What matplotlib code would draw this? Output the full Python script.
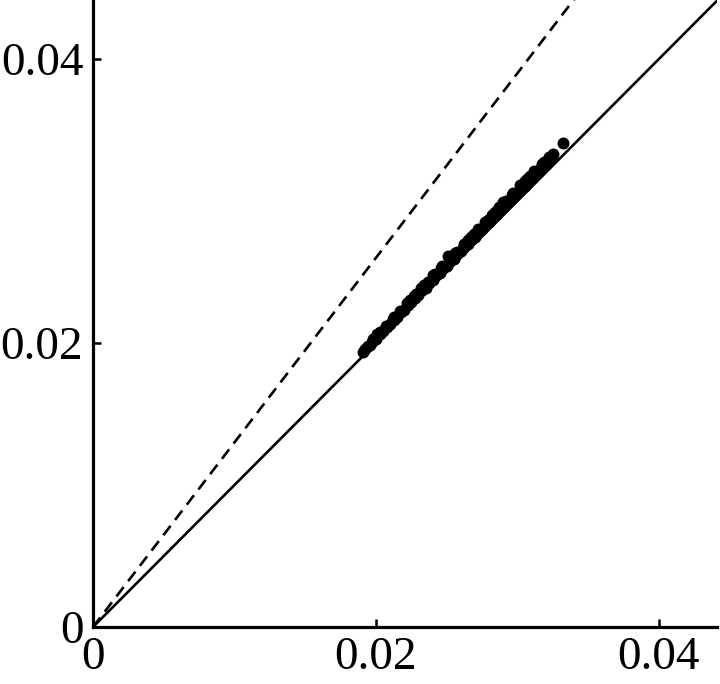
import matplotlib
matplotlib.use("Agg")
import matplotlib.pyplot as plt

# data points (dense band along the diagonal + outlier)
x_pts = [0.0191, 0.0196, 0.0200, 0.0205, 0.0210, 0.0215, 0.0220, 0.0225, 0.0230, 0.0235,
         0.0240, 0.0245, 0.0250, 0.0255, 0.0260, 0.0265, 0.0270, 0.0275, 0.0280, 0.0285,
         0.0290, 0.0295, 0.0300, 0.0305, 0.0310, 0.0315, 0.0320, 0.0324,
         0.0194, 0.0198, 0.0203, 0.0207, 0.0212, 0.0217, 0.0222, 0.0227, 0.0232, 0.0237,
         0.0242, 0.0247, 0.0252, 0.0257, 0.0262, 0.0267, 0.0272, 0.0277, 0.0282, 0.0287,
         0.0292, 0.0297, 0.0302, 0.0307, 0.0312, 0.0317, 0.0322, 0.0325,
         0.01925, 0.01975, 0.02025, 0.02075, 0.02125, 0.02175, 0.02225, 0.02275, 0.02325,
         0.02375, 0.02425, 0.02475, 0.02525, 0.02575, 0.02625, 0.02675, 0.02725, 0.02775,
         0.02825, 0.02875, 0.02925, 0.02975, 0.03025, 0.03075, 0.03125, 0.03175, 0.03225,
         0.0251, 0.0228, 0.0265, 0.0290, 0.0305, 0.0240, 0.0279,
         0.0201, 0.0213, 0.0224, 0.0234, 0.0246, 0.0256, 0.0269, 0.0284, 0.0296, 0.0309, 0.0319,
         0.03325]
y_pts = [0.01935, 0.01988, 0.02030, 0.02081, 0.02132, 0.02184, 0.02235, 0.02286, 0.02337, 0.02389,
         0.02440, 0.02491, 0.02543, 0.02594, 0.02646, 0.02697, 0.02748, 0.02800, 0.02851, 0.02903,
         0.02954, 0.03005, 0.03057, 0.03108, 0.03160, 0.03211, 0.03263, 0.03304,
         0.01980, 0.02025, 0.02078, 0.02122, 0.02172, 0.02226, 0.02279, 0.02330, 0.02384, 0.02432,
         0.02487, 0.02540, 0.02600, 0.02642, 0.02697, 0.02745, 0.02800, 0.02852, 0.02900, 0.02955,
         0.03003, 0.03058, 0.03110, 0.03158, 0.03212, 0.03262, 0.03313, 0.03330,
         0.01955, 0.02008, 0.02060, 0.02112, 0.02164, 0.02216, 0.02268, 0.02320, 0.02372,
         0.02424, 0.02476, 0.02530, 0.02585, 0.02632, 0.02686, 0.02736, 0.02790, 0.02840,
         0.02893, 0.02944, 0.02996, 0.03048, 0.03100, 0.03151, 0.03203, 0.03255, 0.03305,
         0.02610, 0.02345, 0.02728, 0.02990, 0.03142, 0.02476, 0.02868,
         0.02060, 0.02185, 0.02300, 0.02405, 0.02530, 0.02635, 0.02768, 0.02922, 0.03040, 0.03175, 0.03275,
         0.03406]

# reference lines
line_x = [0.0, 0.05]
identity_y = [0.0, 0.05]
dashed_y = [0.0, 0.065]

tick_vals = [0.0, 0.02, 0.04]
tick_labels = ["0", "0.02", "0.04"]

plt.rcParams['font.family'] = ['Liberation Serif', 'DejaVu Serif']

fig = plt.figure(figsize=(7.2, 6.84), dpi=100)
ax = fig.add_axes([93/720, 57/684, 624/720, 627/684])

ax.plot(line_x, identity_y, color='black', lw=1.9, zorder=2)
ax.plot(line_x, dashed_y, color='black', lw=1.9, ls=(0, (4.5, 2.8)), zorder=2)
ax.plot(x_pts, y_pts, 'o', color='black', ms=8.6, mew=0, zorder=3)

ax.set_xlim(0, 0.0441)
ax.set_ylim(0, 0.04415)

for s in ['top', 'right']:
    ax.spines[s].set_visible(False)
for s in ['left', 'bottom']:
    ax.spines[s].set_linewidth(2.3)

ax.set_xticks(tick_vals)
ax.set_xticklabels(tick_labels)
ax.set_yticks(tick_vals)
ax.set_yticklabels(tick_labels)
ax.tick_params(direction='in', length=6, width=1.8, labelsize=34, pad=7)
ax.xaxis.get_major_ticks()[0].tick1line.set_visible(False)
ax.yaxis.get_major_ticks()[0].tick1line.set_visible(False)

fig.savefig("out.png", dpi=100)
